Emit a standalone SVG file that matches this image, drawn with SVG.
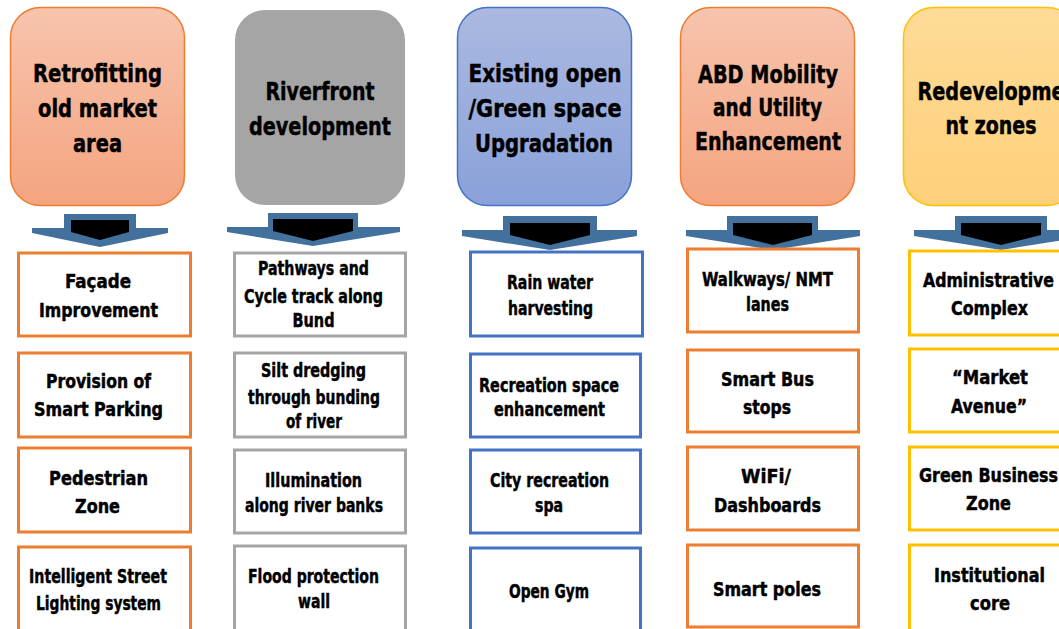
<svg xmlns="http://www.w3.org/2000/svg" width="1059" height="629" viewBox="0 0 1059 629">
<defs>
<linearGradient id="gOr" x1="0" y1="0" x2="0" y2="1"><stop offset="0" stop-color="#f7c4ad"/><stop offset="1" stop-color="#f4a47f"/></linearGradient>
<linearGradient id="gBl" x1="0" y1="0" x2="0" y2="1"><stop offset="0" stop-color="#abb9e1"/><stop offset="1" stop-color="#89a1d9"/></linearGradient>
<linearGradient id="gYe" x1="0" y1="0" x2="0" y2="1"><stop offset="0" stop-color="#fedb98"/><stop offset="1" stop-color="#fed07a"/></linearGradient>
<style>
.hd{stroke-width:1.5}
.t{font-family:"Liberation Sans Narrow","DejaVu Sans Condensed","Liberation Sans",Arial,sans-serif;font-weight:bold;fill:#000;stroke:#000;stroke-width:0.45;text-anchor:middle}
.h{font-size:25px}
.s{font-size:19.5px}
.bx{fill:#fff;stroke-width:3}
.or{stroke:#ed7d31}
.gr{stroke:#a5a5a5}
.bl{stroke:#4472c4}
.ye{stroke:#ffc000}
.aw{fill:#41719c}
.ak{fill:#000}
</style>
</defs>
<rect width="1059" height="629" fill="#fff"/>

<g id="header1">
<rect class="hd" x="10.5" y="7.5" width="174" height="198" rx="30" fill="url(#gOr)" stroke="#ed7d31"/>
<text class="t h" x="97.5" y="82" textLength="129" lengthAdjust="spacingAndGlyphs">Retrofitting</text>
<text class="t h" x="97.5" y="117" textLength="119" lengthAdjust="spacingAndGlyphs">old market</text>
<text class="t h" x="97.5" y="152" textLength="49" lengthAdjust="spacingAndGlyphs">area</text>
</g>
<g id="header2">
<rect x="235" y="10" width="170" height="195" rx="30" fill="#a5a5a5"/>
<text class="t h" x="320" y="100" textLength="109" lengthAdjust="spacingAndGlyphs">Riverfront</text>
<text class="t h" x="320" y="135" textLength="142" lengthAdjust="spacingAndGlyphs">development</text>
</g>
<g id="header3">
<rect class="hd" x="457.5" y="7.5" width="174" height="198" rx="30" fill="url(#gBl)" stroke="#4472c4"/>
<text class="t h" x="545" y="82" textLength="153" lengthAdjust="spacingAndGlyphs">Existing  open</text>
<text class="t h" x="545" y="117" textLength="153" lengthAdjust="spacingAndGlyphs">/Green space</text>
<text class="t h" x="544" y="152" textLength="138" lengthAdjust="spacingAndGlyphs">Upgradation</text>
</g>
<g id="header4">
<rect class="hd" x="680.5" y="7.5" width="174" height="198" rx="30" fill="url(#gOr)" stroke="#ed7d31"/>
<text class="t h" x="768" y="83" textLength="140" lengthAdjust="spacingAndGlyphs">ABD Mobility</text>
<text class="t h" x="767.5" y="116" textLength="109" lengthAdjust="spacingAndGlyphs">and Utility</text>
<text class="t h" x="768" y="150" textLength="146" lengthAdjust="spacingAndGlyphs">Enhancement</text>
</g>
<g id="header5">
<rect class="hd" x="903.5" y="7.5" width="174" height="198" rx="30" fill="url(#gYe)" stroke="#ffc000"/>
<text class="t h" x="991" y="100" textLength="147" lengthAdjust="spacingAndGlyphs">Redevelopme</text>
<text class="t h" x="991" y="134" textLength="91" lengthAdjust="spacingAndGlyphs">nt zones</text>
</g>

<g id="connectors">
<polygon class="aw" points="64,214 136,214 136,228 168,228 168,233 100,247 32,233 32,228 64,228"/>
<polygon class="ak" points="71,220 129,220 129,232 100,240 71,232"/>
<polygon class="aw" points="268,213 358,213 358,227 400,227 400,232 313,246 227,232 227,227 268,227"/>
<polygon class="ak" points="273,219 353,219 353,231 313,241 273,231"/>
<polygon class="aw" points="503,216 597,216 597,230 637,230 637,236 550,250 462,236 462,230 503,230"/>
<polygon class="ak" points="510,223 590,223 590,235 550,245 510,235"/>
<polygon class="aw" points="727,216 818,216 818,230 860,230 860,236 773,250 686,236 686,230 727,230"/>
<polygon class="ak" points="733,223 812,223 812,235 773,245 733,235"/>
<polygon class="aw" points="955,216 1047,216 1047,230 1088,230 1088,236 1001,250 914,236 914,230 955,230"/>
<polygon class="ak" points="961,223 1041,223 1041,235 1001,245 961,235"/>
</g>

<g id="c1b1"><rect class="bx or" x="18.5" y="253" width="172" height="83"/>
<text class="t s" x="98" y="288" textLength="66" lengthAdjust="spacingAndGlyphs">Façade</text>
<text class="t s" x="98.5" y="317" textLength="119" lengthAdjust="spacingAndGlyphs">Improvement</text></g>
<g id="c1b2"><rect class="bx or" x="18.5" y="353" width="172" height="84"/>
<text class="t s" x="98.5" y="388" textLength="105" lengthAdjust="spacingAndGlyphs">Provision of</text>
<text class="t s" x="98.5" y="416" textLength="129" lengthAdjust="spacingAndGlyphs">Smart Parking</text></g>
<g id="c1b3"><rect class="bx or" x="18.5" y="448" width="172" height="84"/>
<text class="t s" x="98.5" y="485" textLength="99" lengthAdjust="spacingAndGlyphs">Pedestrian</text>
<text class="t s" x="97.5" y="513" textLength="45" lengthAdjust="spacingAndGlyphs">Zone</text></g>
<g id="c1b4"><rect class="bx or" x="18.5" y="547" width="172" height="100"/>
<text class="t s" x="98" y="583" textLength="138" lengthAdjust="spacingAndGlyphs">Intelligent Street</text>
<text class="t s" x="98.5" y="610" textLength="125" lengthAdjust="spacingAndGlyphs">Lighting system</text></g>

<g id="c2b1"><rect class="bx gr" x="234.5" y="253" width="171" height="83"/>
<text class="t s" x="313.5" y="275" textLength="111" lengthAdjust="spacingAndGlyphs">Pathways and</text>
<text class="t s" x="313.5" y="303" textLength="139" lengthAdjust="spacingAndGlyphs">Cycle track along</text>
<text class="t s" x="313.5" y="327" textLength="42" lengthAdjust="spacingAndGlyphs">Bund</text></g>
<g id="c2b2"><rect class="bx gr" x="234.5" y="353" width="171" height="84"/>
<text class="t s" x="313.5" y="377" textLength="105" lengthAdjust="spacingAndGlyphs">Silt dredging</text>
<text class="t s" x="314" y="404" textLength="132" lengthAdjust="spacingAndGlyphs">through bunding</text>
<text class="t s" x="314" y="428" textLength="56" lengthAdjust="spacingAndGlyphs">of river</text></g>
<g id="c2b3"><rect class="bx gr" x="234.5" y="450" width="171" height="83"/>
<text class="t s" x="313.5" y="487" textLength="97" lengthAdjust="spacingAndGlyphs">Illumination</text>
<text class="t s" x="314" y="512" textLength="138" lengthAdjust="spacingAndGlyphs">along river banks</text></g>
<g id="c2b4"><rect class="bx gr" x="234.5" y="546" width="171" height="100"/>
<text class="t s" x="313.5" y="583" textLength="131" lengthAdjust="spacingAndGlyphs">Flood protection</text>
<text class="t s" x="314" y="608" textLength="32" lengthAdjust="spacingAndGlyphs">wall</text></g>

<g id="c3b1"><rect class="bx bl" x="470.5" y="252" width="172" height="84"/>
<text class="t s" x="550" y="289" textLength="86" lengthAdjust="spacingAndGlyphs">Rain water</text>
<text class="t s" x="550.5" y="315" textLength="85" lengthAdjust="spacingAndGlyphs">harvesting</text></g>
<g id="c3b2"><rect class="bx bl" x="470.5" y="354" width="170" height="83"/>
<text class="t s" x="549" y="392" textLength="140" lengthAdjust="spacingAndGlyphs">Recreation space</text>
<text class="t s" x="549.5" y="416" textLength="111" lengthAdjust="spacingAndGlyphs">enhancement</text></g>
<g id="c3b3"><rect class="bx bl" x="470.5" y="450" width="170" height="83"/>
<text class="t s" x="549.5" y="487" textLength="119" lengthAdjust="spacingAndGlyphs">City recreation</text>
<text class="t s" x="549" y="512" textLength="28" lengthAdjust="spacingAndGlyphs">spa</text></g>
<g id="c3b4"><rect class="bx bl" x="470.5" y="548" width="170" height="100"/>
<text class="t s" x="549" y="598" textLength="80" lengthAdjust="spacingAndGlyphs">Open Gym</text></g>

<g id="c4b1"><rect class="bx or" x="687.5" y="249" width="171" height="83"/>
<text class="t s" x="767.5" y="286" textLength="131" lengthAdjust="spacingAndGlyphs">Walkways/ NMT</text>
<text class="t s" x="767.5" y="311" textLength="43" lengthAdjust="spacingAndGlyphs">lanes</text></g>
<g id="c4b2"><rect class="bx or" x="687.5" y="350" width="171" height="82"/>
<text class="t s" x="767.5" y="386" textLength="93" lengthAdjust="spacingAndGlyphs">Smart Bus</text>
<text class="t s" x="767" y="414" textLength="48" lengthAdjust="spacingAndGlyphs">stops</text></g>
<g id="c4b3"><rect class="bx or" x="687.5" y="447" width="171" height="83"/>
<text class="t s" x="766" y="483" textLength="50" lengthAdjust="spacingAndGlyphs">WiFi/</text>
<text class="t s" x="767.5" y="512" textLength="107" lengthAdjust="spacingAndGlyphs">Dashboards</text></g>
<g id="c4b4"><rect class="bx or" x="687.5" y="545" width="171" height="82"/>
<text class="t s" x="767" y="596" textLength="108" lengthAdjust="spacingAndGlyphs">Smart poles</text></g>

<g id="c5b1"><rect class="bx ye" x="909.5" y="251" width="171" height="84"/>
<text class="t s" x="988.5" y="287" textLength="131" lengthAdjust="spacingAndGlyphs">Administrative</text>
<text class="t s" x="989.5" y="315" textLength="77" lengthAdjust="spacingAndGlyphs">Complex</text></g>
<g id="c5b2"><rect class="bx ye" x="909.5" y="349" width="171" height="83"/>
<text class="t s" x="990" y="384" textLength="76" lengthAdjust="spacingAndGlyphs">“Market</text>
<text class="t s" x="989" y="413" textLength="76" lengthAdjust="spacingAndGlyphs">Avenue”</text></g>
<g id="c5b3"><rect class="bx ye" x="909.5" y="447" width="171" height="83"/>
<text class="t s" x="988.5" y="482" textLength="139" lengthAdjust="spacingAndGlyphs">Green Business</text>
<text class="t s" x="988.5" y="510" textLength="45" lengthAdjust="spacingAndGlyphs">Zone</text></g>
<g id="c5b4"><rect class="bx ye" x="909.5" y="545" width="171" height="100"/>
<text class="t s" x="989.5" y="582" textLength="111" lengthAdjust="spacingAndGlyphs">Institutional</text>
<text class="t s" x="990" y="610" textLength="40" lengthAdjust="spacingAndGlyphs">core</text></g>
</svg>
